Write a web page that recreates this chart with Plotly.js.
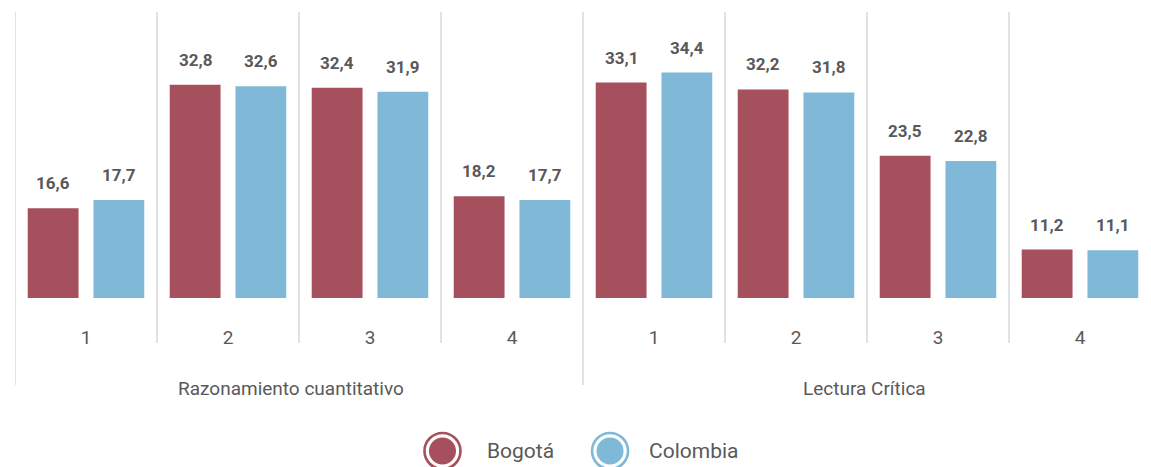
<!DOCTYPE html>
<html>
<head>
<meta charset="utf-8">
<script src="https://cdn.plot.ly/plotly-3.0.1.min.js"></script>
<style>html,body{margin:0;padding:0;background:#fff;}#chart{width:1151px;height:467px;}</style>
</head>
<body>
<div id="chart"></div>
<script>
// ---- data ----
const groups = ['Razonamiento cuantitativo', 'Lectura Crítica'];
const levels = ['1', '2', '3', '4'];
const seriesNames = ['Bogotá', 'Colombia'];
const bogota = [16.6, 32.8, 32.4, 18.2, 33.1, 32.2, 23.5, 11.2];
const colombia = [17.7, 32.6, 31.9, 17.7, 34.4, 31.8, 22.8, 11.1];

// ---- style ----
const RED = '#A64F5D';
const BLUE = '#80B9D7';
const TXT = '#595959';
const GRID = '#D9D9D9';
const FONT = 'Roboto, "Open Sans", sans-serif';
const BARGAP = 0.074;
const BARGROUPGAP = 0.227;

const xs = [];
const ticktext = [];
groups.forEach((g, gi) => levels.forEach((l, li) => { xs.push(gi * levels.length + li); ticktext.push(l); }));

const fmt = v => v.toFixed(1).replace('.', ',');

const traces = [
  {type: 'bar', name: seriesNames[0], x: xs, y: bogota, marker: {color: RED}, showlegend: false, hoverinfo: 'skip'},
  {type: 'bar', name: seriesNames[1], x: xs, y: colombia, marker: {color: BLUE}, showlegend: false, hoverinfo: 'skip'}
];

const annotations = [];
const dx = (1 - BARGAP) / 4;
[bogota, colombia].forEach((arr, si) => {
  arr.forEach((v, i) => {
    annotations.push({
      x: xs[i] + (si === 0 ? -dx : dx), y: v, xref: 'x', yref: 'y',
      text: fmt(v), showarrow: false, yanchor: 'bottom', yshift: 13,
      font: {family: FONT, size: 17, color: TXT, weight: 'bold'}
    });
  });
});
// group labels
groups.forEach((g, gi) => {
  annotations.push({
    x: gi * levels.length + (levels.length - 1) / 2, y: -0.315, xref: 'x', yref: 'paper',
    text: g, showarrow: false, yanchor: 'middle', xshift: gi === 0 ? -8 : -3,
    font: {family: FONT, size: 19, color: TXT}
  });
});

const shapes = [];
for (let i = 0; i < xs.length; i++) {
  const long = i % levels.length === 0;
  shapes.push({type: 'line', xref: 'x', yref: 'paper', x0: i - 0.5, x1: i - 0.5, y0: 1, y1: long ? -0.304 : -0.157,
    line: {color: GRID, width: 1.5}});
}

// manual legend
const legendItems = [
  {name: seriesNames[0], color: RED, cx: 0.3763, tx: 485},
  {name: seriesNames[1], color: BLUE, cx: 0.5238, tx: 647}
];
const legY = -0.535;
legendItems.forEach(it => {
  shapes.push({type: 'circle', xref: 'paper', yref: 'paper', xsizemode: 'pixel', ysizemode: 'pixel',
    xanchor: it.cx, yanchor: legY, x0: -18, x1: 18, y0: -18, y1: 18,
    line: {color: it.color, width: 2.6}, fillcolor: '#ffffff'});
  shapes.push({type: 'circle', xref: 'paper', yref: 'paper', xsizemode: 'pixel', ysizemode: 'pixel',
    xanchor: it.cx, yanchor: legY, x0: -13.5, x1: 13.5, y0: -13.5, y1: 13.5,
    line: {width: 0}, fillcolor: it.color});
  annotations.push({x: (it.tx - 15) / 1136, y: legY, xref: 'paper', yref: 'paper', text: it.name,
    showarrow: false, xanchor: 'left', yanchor: 'middle', font: {family: FONT, size: 21, color: TXT}});
});

const layout = {
  width: 1151, height: 467,
  margin: {l: 15, r: 0, t: 12, b: 169},
  paper_bgcolor: '#ffffff', plot_bgcolor: '#ffffff',
  font: {family: FONT, color: TXT},
  barmode: 'group', bargap: BARGAP, bargroupgap: BARGROUPGAP,
  showlegend: false,
  xaxis: {range: [-0.5, 7.5], tickvals: xs, ticktext: ticktext, showgrid: false, zeroline: false,
    showline: false, ticks: '', ticklabelstandoff: 26, tickfont: {family: FONT, size: 19, color: TXT}, fixedrange: true},
  yaxis: {range: [4.84, 42.35], visible: false, showgrid: false, zeroline: false, fixedrange: true},
  shapes: shapes,
  annotations: annotations
};

Plotly.newPlot('chart', traces, layout, {displayModeBar: false, staticPlot: true});
</script>
</body>
</html>
